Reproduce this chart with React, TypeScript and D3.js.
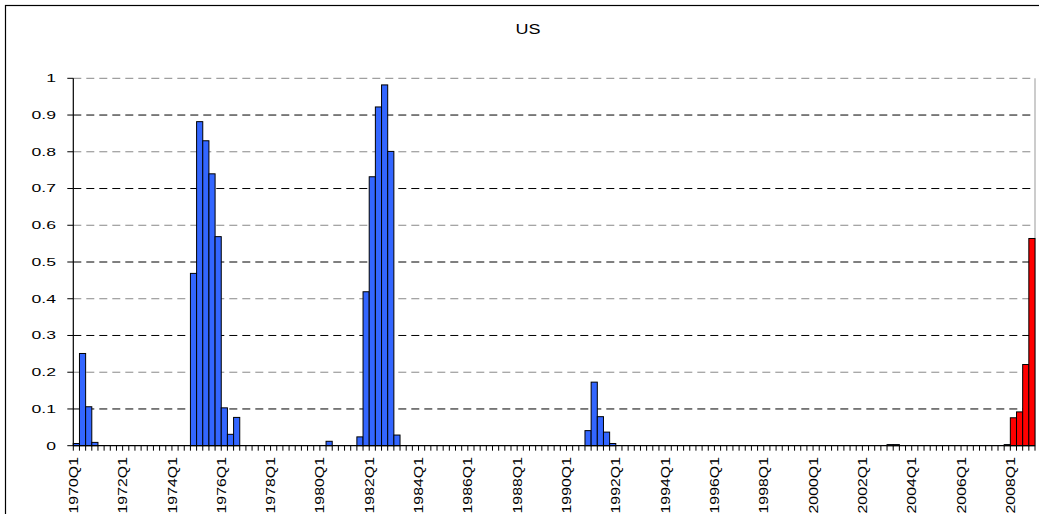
import * as d3 from 'd3';

// Quarterly categories 1970Q1 .. 2008Q4
const years = d3.range(1970, 2009);
const quarters = years.flatMap(y => [`${y}Q1`, `${y}Q2`, `${y}Q3`, `${y}Q4`]);

// one row per year, Q1..Q4
const values = [
  0.006, 0.251, 0.106, 0.009, // 1970
  0, 0, 0, 0, // 1971
  0, 0, 0, 0, // 1972
  0, 0, 0, 0, // 1973
  0, 0, 0, 0.469, // 1974
  0.882, 0.830, 0.740, 0.569, // 1975
  0.103, 0.031, 0.077, 0, // 1976
  0, 0, 0, 0, // 1977
  0, 0, 0, 0, // 1978
  0, 0, 0, 0, // 1979
  0, 0.012, 0, 0, // 1980
  0, 0, 0.024, 0.419, // 1981
  0.732, 0.922, 0.982, 0.801, // 1982
  0.029, 0, 0, 0, // 1983
  0, 0, 0, 0, // 1984
  0, 0, 0, 0, // 1985
  0, 0, 0, 0, // 1986
  0, 0, 0, 0, // 1987
  0, 0, 0, 0, // 1988
  0, 0, 0, 0, // 1989
  0, 0, 0, 0.041, // 1990
  0.173, 0.079, 0.037, 0.006, // 1991
  0, 0, 0, 0, // 1992
  0, 0, 0, 0, // 1993
  0, 0, 0, 0, // 1994
  0, 0, 0, 0, // 1995
  0, 0, 0, 0, // 1996
  0, 0, 0, 0, // 1997
  0, 0, 0, 0, // 1998
  0, 0, 0, 0, // 1999
  0, 0, 0, 0, // 2000
  0, 0, 0, 0, // 2001
  0, 0, 0, 0, // 2002
  0.003, 0.003, 0, 0, // 2003
  0, 0, 0, 0, // 2004
  0, 0, 0, 0, // 2005
  0, 0, 0, 0, // 2006
  0, 0, 0, 0.003, // 2007
  0.076, 0.092, 0.221, 0.564, // 2008
];

const redQuarters = ['2008Q1', '2008Q2', '2008Q3', '2008Q4'];
const yTicks = [0, 0.1, 0.2, 0.3, 0.4, 0.5, 0.6, 0.7, 0.8, 0.9, 1];
const yTickLabels = ['0', '0.1', '0.2', '0.3', '0.4', '0.5', '0.6', '0.7', '0.8', '0.9', '1'];

const W = 1039;
const H = 514;
const plot = { left: 73.3, right: 1035, top: 78.3, bottom: 445.7 };
const font = '"Liberation Sans", Arial, sans-serif';

export default function App() {
  const x = d3.scaleBand<string>().domain(quarters).range([plot.left, plot.right]).padding(0);
  const y = d3.scaleLinear().domain([0, 1]).range([plot.bottom, plot.top]);
  const bw = x.bandwidth();

  const bars = quarters
    .map((q, i) => ({ q, v: values[i] }))
    .filter(d => d.v > 0);

  return (
    <div style={{ position: 'absolute', left: 0, top: 0 }}>
      <svg width={W} height={H} style={{ display: 'block', background: '#fff' }}>
        {/* chart area border */}
        <rect x={5.5} y={5.5} width={1045} height={530} fill="none" stroke="#000" strokeWidth={1.2} />

        {/* title */}
        <text
          transform={`translate(528,34) scale(1.2,1)`}
          textAnchor="middle"
          fontFamily={font}
          fontSize={15}
          fill="#000"
        >
          US
        </text>

        {/* gridlines */}
        {yTicks.filter(t => t > 0).map((t, i) => (
          <line
            key={`g${t}`}
            x1={plot.left}
            x2={plot.right}
            y1={y(t)}
            y2={y(t)}
            stroke={i % 2 === 0 ? '#000' : '#888'}
            strokeWidth={1}
            strokeDasharray="8,5"
          />
        ))}

        {/* right plot border */}
        <line x1={plot.right} x2={plot.right} y1={plot.top} y2={plot.bottom} stroke="#999" strokeWidth={1} />

        {/* bars */}
        {bars.map(d => (
          <rect
            key={d.q}
            x={x(d.q)}
            y={y(d.v)}
            width={bw}
            height={y(0) - y(d.v)}
            fill={redQuarters.includes(d.q) ? '#ff0000' : '#3366ff'}
            stroke="#000"
            strokeWidth={1}
          />
        ))}

        {/* y axis */}
        <line x1={plot.left} x2={plot.left} y1={plot.top} y2={plot.bottom} stroke="#000" strokeWidth={1.2} />
        {yTicks.map((t, i) => (
          <g key={`y${t}`}>
            <line x1={plot.left - 6} x2={plot.left} y1={y(t)} y2={y(t)} stroke="#000" strokeWidth={1} />
            <text
              transform={`translate(56,${y(t) + 3.8}) scale(1.6,1)`}
              textAnchor="end"
              fontFamily={font}
              fontSize={11}
              fill="#000"
            >
              {yTickLabels[i]}
            </text>
          </g>
        ))}

        {/* x axis */}
        <line x1={plot.left} x2={plot.right} y1={plot.bottom} y2={plot.bottom} stroke="#000" strokeWidth={1.2} />
        {quarters.map(q => (
          <line
            key={`t${q}`}
            x1={x(q)}
            x2={x(q)}
            y1={plot.bottom}
            y2={plot.bottom + 5}
            stroke="#000"
            strokeWidth={1}
          />
        ))}
        <line x1={plot.right} x2={plot.right} y1={plot.bottom} y2={plot.bottom + 5} stroke="#000" strokeWidth={1} />
        {quarters.filter((_, i) => i % 8 === 0).map(q => (
          <text
            key={`l${q}`}
            transform={`translate(${(x(q) ?? 0) + 4.6},457) rotate(-90) scale(1.22,1)`}
            textAnchor="end"
            fontFamily={font}
            fontSize={13}
            fill="#000"
          >
            {q}
          </text>
        ))}
      </svg>
    </div>
  );
}
